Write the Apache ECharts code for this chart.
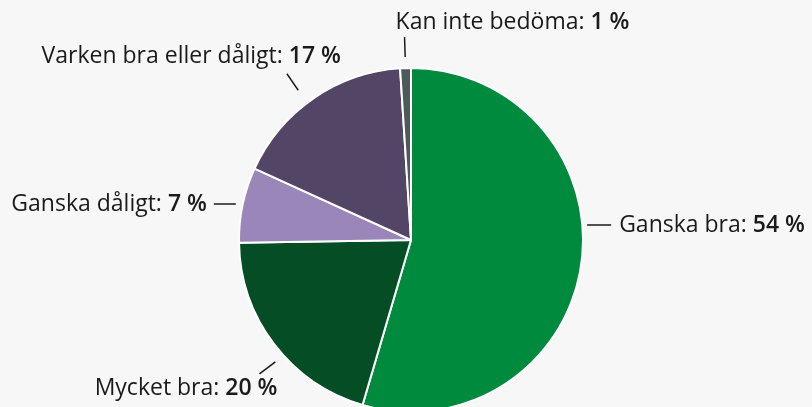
<!DOCTYPE html>
<html>
<head>
<meta charset="utf-8">
<script src="https://cdn.jsdelivr.net/npm/echarts@6/dist/echarts.min.js"></script>
<style>
  html, body { margin: 0; padding: 0; background: #f7f7f7; }
  #chart { width: 812px; height: 407px; }
</style>
</head>
<body>
<div id="chart"></div>
<script>
const categories = ["Ganska bra", "Mycket bra", "Ganska dåligt", "Varken bra eller dåligt", "Kan inte bedöma"];
const values = [54, 20, 7, 17, 1];
const colors = ["#008a3d", "#054d25", "#9a86b9", "#534566", "#4c5a5a"];

const chart = echarts.init(document.getElementById("chart"));

const pieData = categories.map((name, i) => ({ name: name, value: values[i] }));

// horizontal lines for the two side labels
function flatLine(x0, y, len, toRight) {
  const x1 = toRight ? x0 + len : x0 - len;
  return [[x0, y], [x1, y], [x1, y]];
}

function shift(pts, dx, dy) {
  return pts.map((p) => [p[0] + dx, p[1] + dy]);
}

const option = {
  backgroundColor: "#f7f7f7",
  textStyle: { fontFamily: "Open Sans" },
  series: [
    {
      // the pie itself
      type: "pie",
      center: [411, 240],
      radius: 172,
      startAngle: 90,
      clockwise: true,
      silent: true,
      label: { show: false },
      labelLine: { show: false },
      itemStyle: {
        color: (p) => colors[p.dataIndex],
        borderColor: "#ffffff",
        borderWidth: 2
      },
      data: pieData
    },
    {
      // invisible ring, only there to carry the labels a bit away from the pie
      type: "pie",
      center: [411, 240],
      radius: 183,
      startAngle: 90,
      clockwise: true,
      silent: true,
      avoidLabelOverlap: false,
      itemStyle: { color: "transparent" },
      label: {
        show: true,
        position: "outside",
        distanceToLabelLine: 8,
        formatter: "{n|{b}: }{v|{c} %}",
        rich: {
          n: { fontSize: 23, color: "#1a1a1a", fontFamily: "Open Sans" },
          v: { fontSize: 23, color: "#1a1a1a", fontWeight: 600, fontFamily: "Open Sans" }
        }
      },
      labelLine: {
        show: true,
        length: 20,
        length2: 0,
        lineStyle: { color: "#1a1a1a", width: 1.5 }
      },
      labelLayout: function (params) {
        const pts = params.labelLinePoints;
        if (!pts) return {};
        switch (params.dataIndex) {
          case 0: {
            const line = flatLine(pts[0][0] - 5, 225, 24, true);
            return { labelLinePoints: line, x: line[2][0] + 8, y: 225, align: "left", verticalAlign: "middle" };
          }
          case 1: {
            const line = shift(pts, 10, 11);
            const end = line[2];
            return { labelLinePoints: line, x: end[0] + 18, y: end[1] + 3, align: "right", verticalAlign: "top" };
          }
          case 2: {
            const line = flatLine(pts[0][0] + 4, 204, 22, false);
            return { labelLinePoints: line, x: line[2][0] - 7, y: 204, align: "right", verticalAlign: "middle" };
          }
          case 3: {
            const line = shift(pts, -9, 1);
            const end = line[2];
            return { labelLinePoints: line, x: end[0] + 54, y: end[1] - 6, align: "right", verticalAlign: "bottom" };
          }
          case 4: {
            const end = pts[2];
            return { labelLinePoints: pts, x: end[0] - 9, y: end[1] - 3, align: "left", verticalAlign: "bottom" };
          }
        }
        return {};
      },
      data: pieData
    }
  ]
};

chart.setOption(option);
</script>
</body>
</html>
